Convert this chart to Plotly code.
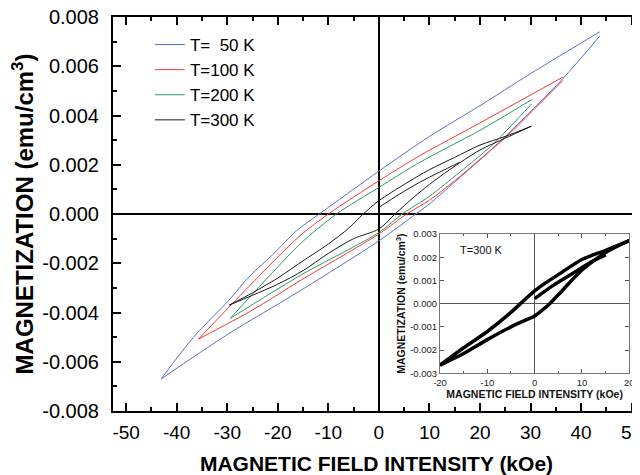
import plotly.graph_objects as go

# ---------------- data ----------------
# 50 K loop: descending branch (upper) and ascending branch (lower)
h50_up = [43.7, 30, 20, 10, 0, -11.8, -16.3, -20.9, -25.5, -29.8, -36.7, -43.1]
m50_up = [0.0074, 0.0057, 0.0044, 0.00315, 0.00174, 0.0, -0.00068, -0.00163, -0.00251, -0.00353, -0.00501, -0.0067]
h50_lo = [-43.1, -30, -15.6, 0, 7.3, 10, 15, 20, 25, 36.4, 43.7]
m50_lo = [-0.0067, -0.0049, -0.00312, -0.00109, 0.0, 0.00041, 0.0013, 0.0022, 0.00315, 0.0055, 0.00723]

# 100 K loop
h100_up = [36.4, 20, 8.1, 0, -10, -15.6, -25.8, -35.7]
m100_up = [0.00556, 0.0037, 0.00237, 0.00135, 0.0, -0.00088, -0.00296, -0.00508]
h100_lo = [-35.7, -25, -15.6, 0, 5.5, 10, 15, 20, 25, 36.4]
m100_lo = [-0.00508, -0.0039, -0.00271, -0.00081, 0.0, 0.00056, 0.00135, 0.00222, 0.0031, 0.00542]

# 200 K loop
h200_up = [30.2, 20, 8.1, 0, -8.4, -15.6, -22.6, -29.4]
m200_up = [0.00464, 0.0034, 0.0021, 0.00108, 0.0, -0.00122, -0.00272, -0.00424]
h200_lo = [-29.4, -15.6, 0, 4.6, 10, 16, 22.3, 30.2]
m200_lo = [-0.00424, -0.0025, -0.00075, 0.0, 0.00072, 0.0017, 0.00278, 0.00447]

# 300 K loop (+ initial magnetization curve)
h300_up = [30.2, 25, 20, 15, 10, 5, 0, -3.1, -6, -10, -15, -20, -25, -29.6]
m300_up = [0.00357, 0.00315, 0.0028, 0.0023, 0.0018, 0.0012, 0.00054, 0.0, -0.00058, -0.00122, -0.0019, -0.0026, -0.0032, -0.0037]
h300_lo = [-29.6, -25, -20, -15, -10, -5, 0, 3.2, 7, 10, 14, 20, 25, 30.2]
m300_lo = [-0.0037, -0.0033, -0.00285, -0.0023, -0.0016, -0.001, -0.00061, 0.0, 0.0007, 0.0012, 0.0018, 0.0026, 0.00308, 0.00357]
h300_vir = [0, 4, 8, 12, 16]
m300_vir = [0.00027, 0.0008, 0.00128, 0.0017, 0.0021]

# inset: 300 K loop, +/-20 kOe
hin_up = [20, 15, 10, 5, 2, 0, -3, -6, -10, -15, -20]
min_up = [0.00272, 0.0023, 0.0019, 0.00125, 0.00085, 0.00055, 0.0, -0.00055, -0.0012, -0.0019, -0.00265]
hin_lo = [-20, -15, -10, -5, -2.5, 0, 1.6, 3.2, 6, 10, 15, 20]
min_lo = [-0.00265, -0.00215, -0.00155, -0.001, -0.00076, -0.00053, -0.00028, 0.0, 0.0006, 0.00145, 0.0022, 0.00272]
hin_vir = [0, 4, 8, 12, 15]
min_vir = [0.00022, 0.0008, 0.0013, 0.0018, 0.0021]

series_names = ["T=  50 K", "T=100 K", "T=200 K", "T=300 K"]
series_colors = ["#5b6ecf", "#ee3b3b", "#2e9a62", "#1a1a1a"]

x_tick_vals = [-50, -40, -30, -20, -10, 0, 10, 20, 30, 40, 50]
x_tick_text = ["-50", "-40", "-30", "-20", "-10", "0", "10", "20", "30", "40", "50"]
y_tick_vals = [-0.008, -0.006, -0.004, -0.002, 0.0, 0.002, 0.004, 0.006, 0.008]
y_tick_text = ["-0.008", "-0.006", "-0.004", "-0.002", "0.000", "0.002", "0.004", "0.006", "0.008"]
xin_tick_vals = [-20, -10, 0, 10, 20]
xin_tick_text = ["-20", "-10", "0", "10", "20"]
yin_tick_vals = [-0.003, -0.002, -0.001, 0.0, 0.001, 0.002, 0.003]
yin_tick_text = ["-0.003", "-0.002", "-0.001", "0.000", "0.001", "0.002", "0.003"]

FONT = "Liberation Sans, Arial, sans-serif"


def join(*segs):
    xs, ys = [], []
    for i, (sx, sy) in enumerate(segs):
        if i:
            xs.append(None)
            ys.append(None)
        xs += list(sx)
        ys += list(sy)
    return xs, ys


loops = [
    [(h50_up, m50_up), (h50_lo, m50_lo)],
    [(h100_up, m100_up), (h100_lo, m100_lo)],
    [(h200_up, m200_up), (h200_lo, m200_lo)],
    [(h300_up, m300_up), (h300_lo, m300_lo), (h300_vir, m300_vir)],
]

fig = go.Figure()
for name, color, segs in zip(series_names, series_colors, loops):
    xs, ys = join(*segs)
    fig.add_trace(go.Scatter(x=xs, y=ys, mode="lines", name=name,
                             line=dict(color=color, width=1, shape="spline", smoothing=0.8),
                             connectgaps=False, xaxis="x", yaxis="y"))

xs, ys = join((hin_up, min_up), (hin_lo, min_lo), (hin_vir, min_vir))
fig.add_trace(go.Scatter(x=xs, y=ys, mode="lines", showlegend=False,
                         line=dict(color="black", width=3.5, shape="spline", smoothing=0.8),
                         connectgaps=False, xaxis="x2", yaxis="y2"))

# the page body adds an 8px margin, so the figure is 8px smaller than the window
fig.update_layout(
    width=632, height=467,
    margin=dict(l=105, r=0, t=9, b=64),
    paper_bgcolor="white", plot_bgcolor="white",
    font=dict(family=FONT, color="black"),
    showlegend=True,
    legend=dict(x=0.07, y=0.9746, xanchor="left", yanchor="top",
                font=dict(size=17, family=FONT, color="black"),
                bgcolor="rgba(0,0,0,0)", itemwidth=30, tracegroupgap=0),
    xaxis=dict(domain=[0, 1], range=[-52.6, 51.65], anchor="y",
               tickmode="array", tickvals=x_tick_vals, ticktext=x_tick_text,
               ticks="inside", ticklen=8, tickwidth=1.5, tickcolor="black",
               minor=dict(dtick=5, tick0=0, ticks="inside", ticklen=4, tickwidth=1.5, tickcolor="black"),
               showline=True, linewidth=2, linecolor="black", mirror="ticks",
               zeroline=True, zerolinewidth=2, zerolinecolor="black",
               showgrid=False, tickfont=dict(size=19, family=FONT, color="black"),
               ticklabelstandoff=3, ticklabeloverflow="allow", automargin=False,
               title=dict(text="<b>MAGNETIC FIELD INTENSITY (kOe)</b>", standoff=16,
                          font=dict(size=21, family=FONT, color="black"))),
    yaxis=dict(domain=[0, 1], range=[-0.008, 0.008], anchor="x",
               tickmode="array", tickvals=y_tick_vals, ticktext=y_tick_text,
               ticks="inside", ticklen=8, tickwidth=1.5, tickcolor="black",
               minor=dict(dtick=0.001, tick0=0, ticks="inside", ticklen=4, tickwidth=1.5, tickcolor="black"),
               showline=True, linewidth=2, linecolor="black", mirror="ticks",
               zeroline=True, zerolinewidth=2, zerolinecolor="black",
               showgrid=False, tickfont=dict(size=20, family=FONT, color="black"),
               ticklabelstandoff=8, ticklabeloverflow="allow", automargin=False,
               title=dict(text="<b>MAGNETIZATION (emu/cm<sup>3</sup>)</b>", standoff=11,
                          font=dict(size=24, family=FONT, color="black"))),
    xaxis2=dict(domain=[0.6205, 0.9797], range=[-20, 20], anchor="y2",
                tickmode="array", tickvals=xin_tick_vals, ticktext=xin_tick_text,
                ticks="inside", ticklen=4, tickwidth=1, tickcolor="#555",
                minor=dict(dtick=5, tick0=0, ticks="inside", ticklen=2, tickwidth=1, tickcolor="#555"),
                showline=True, linewidth=1, linecolor="#777", mirror="ticks",
                zeroline=True, zerolinewidth=1, zerolinecolor="#555",
                showgrid=False, tickfont=dict(size=9.5, family=FONT, color="#222"),
                automargin=False,
                title=dict(text="<b>MAGNETIC FIELD INTENSITY (kOe)</b>", standoff=2,
                           font=dict(size=10.5, family=FONT, color="#111"))),
    yaxis2=dict(domain=[0.0957, 0.4492], range=[-0.003, 0.003], anchor="x2",
                tickmode="array", tickvals=yin_tick_vals, ticktext=yin_tick_text,
                ticks="inside", ticklen=4, tickwidth=1, tickcolor="#555",
                showline=True, linewidth=1, linecolor="#777", mirror="ticks",
                zeroline=True, zerolinewidth=1, zerolinecolor="#555",
                showgrid=False, tickfont=dict(size=9.5, family=FONT, color="#222"),
                automargin=False,
                title=dict(text="<b>MAGNETIZATION (emu/cm<sup>3</sup>)</b>", standoff=2,
                           font=dict(size=10.5, family=FONT, color="#111"))),
    annotations=[dict(text="T=300 K", xref="x2 domain", yref="y2 domain",
                      x=0.095, y=0.885, xanchor="left", yanchor="middle", showarrow=False,
                      font=dict(size=11, family=FONT, color="#111"))],
)

fig.write_html("out.html")
